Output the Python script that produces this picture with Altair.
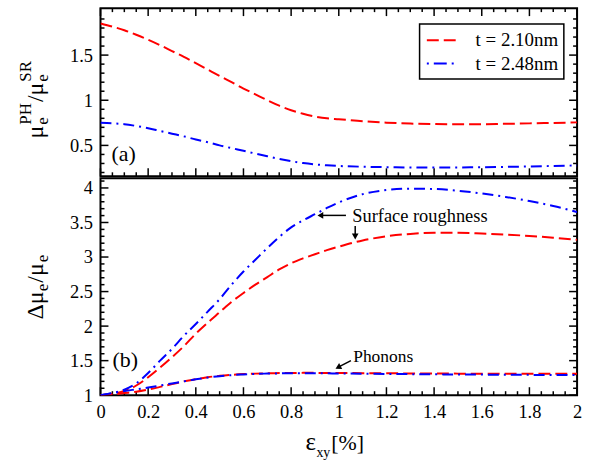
import altair as alt
import pandas as pd

SERIF = "Liberation Serif"
RED = "#ff0000"
BLUE = "#0000ff"

# Shear strain grid [%]
strain = [0.0, 0.05, 0.1, 0.15, 0.2, 0.25, 0.3, 0.35, 0.4, 0.45, 0.5, 0.55, 0.6,
          0.65, 0.7, 0.75, 0.8, 0.85, 0.9, 0.95, 1.0, 1.1, 1.2, 1.3, 1.4, 1.5,
          1.6, 1.7, 1.8, 1.9, 2.0]

# (a) phonon-limited over roughness-limited mobility
ratio_t210 = [1.85, 1.815, 1.775, 1.725, 1.67, 1.61, 1.545, 1.48, 1.41, 1.34, 1.27,
              1.20, 1.13, 1.065, 1.00, 0.94, 0.89, 0.85, 0.82, 0.80, 0.79, 0.768,
              0.752, 0.742, 0.736, 0.734, 0.735, 0.739, 0.744, 0.749, 0.755]
ratio_t248 = [0.75, 0.745, 0.735, 0.715, 0.69, 0.66, 0.63, 0.60, 0.565, 0.535, 0.50,
              0.47, 0.44, 0.41, 0.38, 0.35, 0.325, 0.305, 0.29, 0.28, 0.272, 0.264,
              0.259, 0.256, 0.255, 0.256, 0.258, 0.262, 0.267, 0.272, 0.278]

# (b) relative mobility change: surface roughness and phonons
sr_t210 = [1.0, 1.02, 1.06, 1.14, 1.26, 1.40, 1.55, 1.71, 1.89, 2.05, 2.20, 2.35,
           2.48, 2.60, 2.71, 2.82, 2.91, 2.98, 3.04, 3.10, 3.15, 3.24, 3.30, 3.335,
           3.35, 3.35, 3.34, 3.325, 3.305, 3.28, 3.25]
sr_t248 = [1.0, 1.03, 1.08, 1.17, 1.32, 1.50, 1.67, 1.86, 2.03, 2.21, 2.39, 2.60,
           2.79, 2.96, 3.13, 3.29, 3.43, 3.53, 3.62, 3.71, 3.79, 3.91, 3.97, 3.99,
           3.985, 3.96, 3.92, 3.87, 3.81, 3.74, 3.65]
ph_t210 = [1.0, 1.01, 1.03, 1.05, 1.08, 1.12, 1.16, 1.20, 1.23, 1.26, 1.28, 1.295,
           1.305, 1.312, 1.317, 1.32, 1.322, 1.323, 1.323, 1.322, 1.321, 1.319,
           1.317, 1.315, 1.313, 1.312, 1.311, 1.31, 1.31, 1.31, 1.31]
ph_t248 = [1.0, 1.03, 1.06, 1.085, 1.11, 1.14, 1.17, 1.20, 1.23, 1.255, 1.275, 1.29,
           1.30, 1.308, 1.313, 1.316, 1.318, 1.318, 1.317, 1.316, 1.314, 1.311,
           1.308, 1.305, 1.302, 1.30, 1.298, 1.296, 1.294, 1.293, 1.292]

legend_labels = ["t = 2.10nm", "t = 2.48nm"]

# Axis labels and tick positions
x_labels = [0, 0.2, 0.4, 0.6, 0.8, 1, 1.2, 1.4, 1.6, 1.8, 2]
x_minor = [round(i * 0.05, 2) for i in range(41) if i % 4]
top_y_labels = [0.5, 1, 1.5]
top_y_minor = [round(i * 0.1, 1) for i in range(2, 20) if i % 5]
bot_y_labels = [1, 1.5, 2, 2.5, 3, 3.5, 4]
bot_y_minor = [round(i * 0.1, 1) for i in range(11, 42) if i % 5]

W = 479
H_TOP = 169
H_BOT = 218
TOP_DOMAIN = [0.158, 2.02]
BOT_DOMAIN = [1.0, 4.14]

DASHED = [12, 5]
DASHDOT = [11, 5, 2, 5]

one = pd.DataFrame({"k": [0]})


def label_axis(values, pad):
    return alt.Axis(values=values, format="~g", ticks=False, tickSize=0, domain=False,
                    grid=False, title=None, labelFont=SERIF, labelFontSize=18.5,
                    labelColor="black", labelPadding=pad, labelFlush=False,
                    labelOverlap=False)


def xenc(axis):
    return alt.X("strain:Q", scale=alt.Scale(domain=[0, 2], nice=False, zero=False),
                 axis=axis)


def yenc(domain, axis):
    return alt.Y("val:Q", scale=alt.Scale(domain=domain, nice=False, zero=False),
                 axis=axis)


def curve(values, color, dash, domain, xaxis, yaxis):
    df = pd.DataFrame({"strain": strain, "val": values})
    return alt.Chart(df).mark_line(
        color=color, strokeDash=dash, strokeWidth=2, interpolate="monotone", clip=True
    ).encode(x=xenc(xaxis), y=yenc(domain, yaxis))


def x_ticks(positions, length, h, xaxis, bottom=True):
    df = pd.DataFrame({"strain": positions})
    y0, y1 = (h, h - length) if bottom else (0, length)
    return alt.Chart(df).mark_rule(color="black", strokeWidth=1.5).encode(
        x=xenc(xaxis), y=alt.value(y0), y2=alt.value(y1))


def y_ticks(positions, length, domain, yaxis, left=True):
    df = pd.DataFrame({"val": positions})
    x0, x1 = (0, length) if left else (W, W - length)
    return alt.Chart(df).mark_rule(color="black", strokeWidth=1.5).encode(
        y=yenc(domain, yaxis), x=alt.value(x0), x2=alt.value(x1))


def text(t, x, y, size, angle=0, align="left", baseline="alphabetic"):
    props = dict(text=t, font=SERIF, fontSize=size, align=align, baseline=baseline,
                 color="black")
    if angle:
        props["angle"] = angle
    return alt.Chart(one).mark_text(**props).encode(x=alt.value(x), y=alt.value(y))


def seg(x, y, x2, y2, width=1.5, color="black", dash=None):
    props = dict(color=color, strokeWidth=width)
    if dash:
        props["strokeDash"] = dash
    return alt.Chart(one).mark_rule(**props).encode(
        x=alt.value(x), y=alt.value(y), x2=alt.value(x2), y2=alt.value(y2))


def head(x, y, shape, size=45, angle=0):
    props = dict(shape=shape, filled=True, size=size, color="black", opacity=1)
    if angle:
        props["angle"] = angle
    return alt.Chart(one).mark_point(**props).encode(x=alt.value(x), y=alt.value(y))


MAIN, SMALL = 24, 17
MU, SLASH, DELTA = 0.576, 0.278, 0.612

# ---------- panel (a) ----------
ty_axis = label_axis(top_y_labels, 8)
top_layers = [
    x_ticks(x_labels, 8, H_TOP, None, bottom=False),
    x_ticks(x_minor, 4, H_TOP, None, bottom=False),
    x_ticks(x_labels, 8, H_TOP, None, bottom=True),
    x_ticks(x_minor, 4, H_TOP, None, bottom=True),
    y_ticks(top_y_labels, 8, TOP_DOMAIN, ty_axis, left=True),
    y_ticks(top_y_minor, 4, TOP_DOMAIN, ty_axis, left=True),
    y_ticks(top_y_labels, 8, TOP_DOMAIN, ty_axis, left=False),
    y_ticks(top_y_minor, 4, TOP_DOMAIN, ty_axis, left=False),
    curve(ratio_t210, RED, DASHED, TOP_DOMAIN, None, ty_axis),
    curve(ratio_t248, BLUE, DASHDOT, TOP_DOMAIN, None, ty_axis),
    text("(a)", 11, 147, 22, baseline="middle"),
]

# legend box
top_layers.append(
    alt.Chart(one).mark_rect(fill="white", stroke="black", strokeWidth=1.5).encode(
        x=alt.value(320.7), x2=alt.value(465.7), y=alt.value(16), y2=alt.value(71.3)))
top_layers += [
    seg(328, 32.3, 357, 32.3, width=2, color=RED, dash=DASHED),
    seg(328, 55.7, 357, 55.7, width=2, color=BLUE, dash=[2, 5, 13, 5]),
    text(legend_labels[0], 377, 32.3, 19, baseline="middle"),
    text(legend_labels[1], 377, 55.7, 19, baseline="middle"),
]

# rotated y title: mu_e^PH / mu_e^SR
bx, yy = -58, 131
top_layers.append(text("μ", bx, yy, MAIN, angle=270))
yy -= MU * MAIN
top_layers.append(text("e", bx + 5, yy, SMALL, angle=270))
top_layers.append(text("PH", bx - 12, yy, SMALL, angle=270))
yy -= (0.556 + 0.722) * SMALL + 1
top_layers.append(text("/", bx, yy, MAIN, angle=270))
yy -= SLASH * MAIN
top_layers.append(text("μ", bx, yy, MAIN, angle=270))
yy -= MU * MAIN
top_layers.append(text("e", bx + 5, yy, SMALL, angle=270))
top_layers.append(text("SR", bx - 12, yy, SMALL, angle=270))

# invisible anchor fixing the left margin
top_layers.append(alt.Chart(one).mark_rule(opacity=0, strokeWidth=1).encode(
    x=alt.value(-99.5), y=alt.value(0), y2=alt.value(1)))

top = alt.layer(*top_layers).properties(width=W, height=H_TOP)

# ---------- panel (b) ----------
bx_axis = label_axis(x_labels, 7)
by_axis = label_axis(bot_y_labels, 8)
bot_layers = [
    x_ticks(x_labels, 8, H_BOT, bx_axis, bottom=True),
    x_ticks(x_minor, 4, H_BOT, bx_axis, bottom=True),
    y_ticks(bot_y_labels, 8, BOT_DOMAIN, by_axis, left=True),
    y_ticks(bot_y_minor, 4, BOT_DOMAIN, by_axis, left=True),
    y_ticks(bot_y_labels, 8, BOT_DOMAIN, by_axis, left=False),
    y_ticks(bot_y_minor, 4, BOT_DOMAIN, by_axis, left=False),
    curve(sr_t210, RED, DASHED, BOT_DOMAIN, bx_axis, by_axis),
    curve(sr_t248, BLUE, DASHDOT, BOT_DOMAIN, bx_axis, by_axis),
    curve(ph_t210, RED, DASHED, BOT_DOMAIN, bx_axis, by_axis),
    curve(ph_t248, BLUE, DASHDOT, BOT_DOMAIN, bx_axis, by_axis),
    text("(b)", 12, 183, 22, baseline="middle"),
    # annotations
    text("Surface roughness", 253, 37.7, 18.5, baseline="middle"),
    seg(246.7, 37.3, 222, 37.3),
    head(221, 37.3, "triangle-left"),
    seg(256, 48, 256, 56),
    head(256, 58.5, "triangle-down"),
    text("Phonons", 254, 180, 17.5, baseline="middle"),
    seg(251.7, 183.3, 240.5, 189),
    head(238.8, 190, "triangle-up", angle=243),
]

# rotated y title: Delta mu_e / mu_e
yy = 142
bot_layers.append(text("Δμ", bx, yy, MAIN, angle=270))
yy -= (DELTA + MU) * MAIN
bot_layers.append(text("e", bx + 5, yy, SMALL, angle=270))
yy -= 0.444 * SMALL + 1
bot_layers.append(text("/μ", bx, yy, MAIN, angle=270))
yy -= (SLASH + MU) * MAIN
bot_layers.append(text("e", bx + 5, yy, SMALL, angle=270))

# x title: eps_xy [%]
bot_layers += [
    text("ε", 206, 273, 25),
    text("xy", 217, 280, 14),
    text("[%]", 232, 273, 22),
]

bottom = alt.layer(*bot_layers).properties(width=W, height=H_BOT)

chart = alt.vconcat(top, bottom, spacing=-2).properties(
    padding={"left": 0, "top": 5, "right": 10, "bottom": 5}
).configure(
    font=SERIF, background="white"
).configure_view(stroke="black", strokeWidth=2)

chart.save("out.html", embed_options={"renderer": "svg", "actions": False})
